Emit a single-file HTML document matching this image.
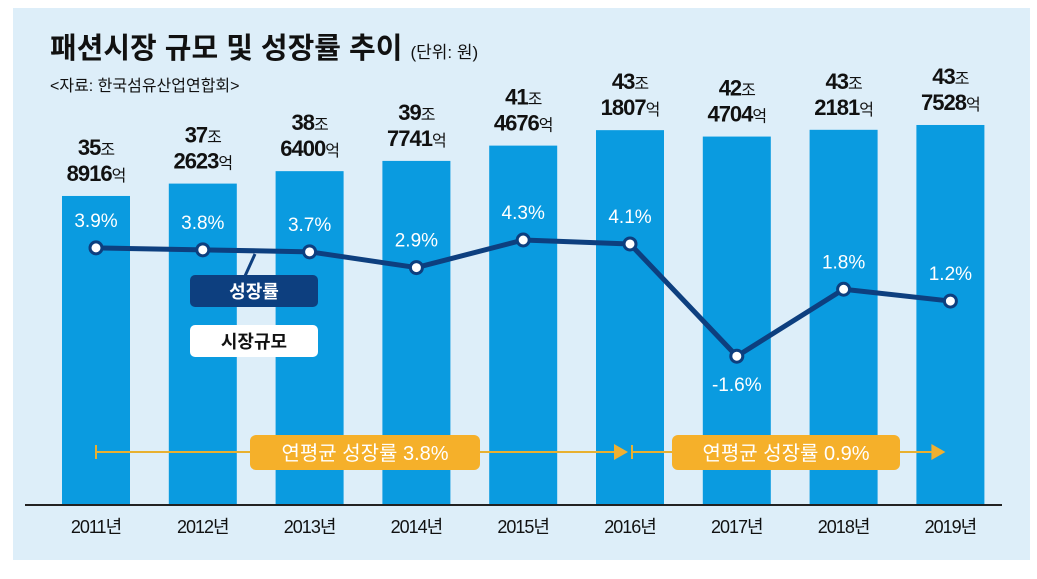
<!DOCTYPE html>
<html><head><meta charset="utf-8">
<style>
body{margin:0;background:#fff;}
svg text{font-family:"Liberation Sans","Noto Sans CJK KR",sans-serif;}
</style></head>
<body>
<svg id="chart" width="1037" height="574" viewBox="0 0 1037 574" xmlns="http://www.w3.org/2000/svg">
<rect x="13" y="8" width="1017" height="552" fill="#ddeef9"/>
<text x="50" y="58" font-size="29" font-weight="bold" fill="#111">패션시장 규모 및 성장률 추이 <tspan font-size="17" font-weight="normal">(단위: 원)</tspan></text>
<text x="50" y="91" font-size="16" fill="#111">&lt;자료: 한국섬유산업연합회&gt;</text>
<g id="bars"></g>
<g id="avg"></g>
<g id="line"></g>
<g id="legend">
<line x1="255" y1="254" x2="245" y2="276" stroke="#0d3f7f" stroke-width="3"/>
<rect x="190" y="275" width="128" height="32" rx="5" fill="#0d3f7f"/>
<text x="254" y="298" font-size="18" font-weight="bold" fill="#fff" text-anchor="middle">성장률</text>
<rect x="190" y="325" width="128" height="32" rx="5" fill="#fff"/>
<text x="254" y="348" font-size="18" font-weight="bold" fill="#111" text-anchor="middle">시장규모</text>
</g>
<line x1="25" y1="505" x2="1002" y2="505" stroke="#222" stroke-width="2"/>
</svg>
<script>
const years = ["2011년","2012년","2013년","2014년","2015년","2016년","2017년","2018년","2019년"];
const sizes = [35.8916,37.2623,38.6400,39.7741,41.4676,43.1807,42.4704,43.2181,43.7528];
const sizeJo = ["35","37","38","39","41","43","42","43","43"];
const sizeEok = ["8916","2623","6400","7741","4676","1807","4704","2181","7528"];
const growth = [3.9,3.8,3.7,2.9,4.3,4.1,-1.6,1.8,1.2];
const growthLabels = ["3.9%","3.8%","3.7%","2.9%","4.3%","4.1%","-1.6%","1.8%","1.2%"];
const avgLabels = ["연평균 성장률 3.8%","연평균 성장률 0.9%"];

const NS="http://www.w3.org/2000/svg";
const base=504;
function xC(i){return 96+i*106.8;}
function yBar(v){return base-(v-1.78)*9.03;}
function yLine(v){return 240+(4.3-v)*19.7;}
function mk(tag,attrs,parent){const e=document.createElementNS(NS,tag);for(const k in attrs)e.setAttribute(k,attrs[k]);parent.appendChild(e);return e;}
const gb=document.getElementById('bars'),gl=document.getElementById('line'),ga=document.getElementById('avg');
const svg=document.getElementById('chart');
sizes.forEach((v,i)=>{
  const t=yBar(v);
  const r=mk('rect',{x:xC(i)-34,y:t,width:68,height:base-t,fill:'#0a9be0'},gb);
  
  
  const l1=mk('text',{x:xC(i),y:t-41,'font-size':22,'font-weight':'bold','text-anchor':'middle',fill:'#111','letter-spacing':'-1'},gb);
  l1.innerHTML=sizeJo[i]+'<tspan font-size="16" font-weight="normal">조</tspan>';
  
  
  const l2=mk('text',{x:xC(i),y:t-15,'font-size':22,'font-weight':'bold','text-anchor':'middle',fill:'#111','letter-spacing':'-1'},gb);
  l2.innerHTML=sizeEok[i]+'<tspan font-size="16" font-weight="normal">억</tspan>';
  
  
  const yl=mk('text',{x:xC(i),y:533,'font-size':18,'text-anchor':'middle',fill:'#111','letter-spacing':'-1'},svg);
  yl.textContent=years[i];
  
  
});
const pts=growth.map((v,i)=>xC(i)+','+yLine(v)).join(' ');
const pl=mk('polyline',{points:pts,fill:'none',stroke:'#0d3f7f','stroke-width':5,'stroke-linejoin':'round'},gl);


growth.forEach((v,i)=>{
  const y=yLine(v);
  const c=mk('circle',{cx:xC(i),cy:y,r:6,fill:'#fff',stroke:'#0d3f7f','stroke-width':3},gl);
  
  
  const ly = v<0 ? y+35 : y-21;
  const t=mk('text',{x:xC(i),y:ly,'font-size':19,'text-anchor':'middle',fill:'#fff'},gl);
  t.textContent=growthLabels[i];
  
  
});
const segs=[[xC(0),xC(5)-2,250,480],[xC(5)+2,xC(8)-5,672,900]];
segs.forEach((s,k)=>{
  const ln=mk('line',{x1:s[0],y1:452,x2:s[1]-12,y2:452,stroke:'#e8b030','stroke-width':2},ga);
  
  
  const tk=mk('line',{x1:s[0],y1:445,x2:s[0],y2:459,stroke:'#e8b030','stroke-width':2},ga);
  
  
  const ah=mk('polygon',{points:(s[1]-14)+',444 '+s[1]+',452 '+(s[1]-14)+',460',fill:'#f0b030'},ga);
  
  
  const b=mk('rect',{x:s[2],y:435,width:s[3]-s[2],height:35,rx:6,fill:'#f5b02a'},ga);
  
  
  const t=mk('text',{x:(s[2]+s[3])/2,y:460,'font-size':20,'text-anchor':'middle',fill:'#fff'},ga);
  t.textContent=avgLabels[k];
  
  
});
</script>
</body></html>
